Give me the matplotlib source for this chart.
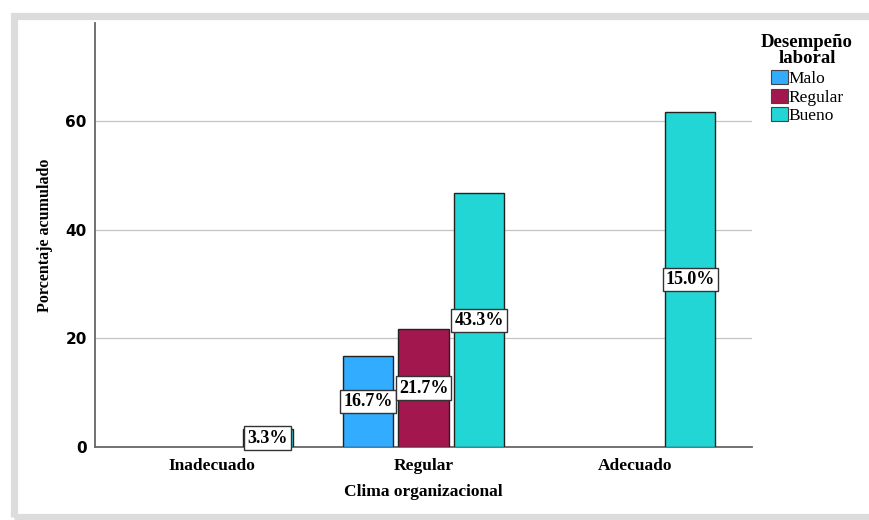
import numpy as np
import matplotlib.pyplot as plt
from matplotlib.patches import Rectangle, Patch

# Datos: porcentaje acumulado por clima organizacional y desempeño laboral
categorias = ['Inadecuado', 'Regular', 'Adecuado']
series = ['Malo', 'Regular', 'Bueno']
acumulado = {
    'Malo':    [0.0, 16.7, 0.0],
    'Regular': [0.0, 21.7, 0.0],
    'Bueno':   [3.3, 46.7, 61.7],
}
etiquetas = {
    'Malo':    [None, '16.7%', None],
    'Regular': [None, '21.7%', None],
    'Bueno':   ['3.3%', '43.3%', '15.0%'],
}
colores = {'Malo': '#31acfe', 'Regular': '#a3174f', 'Bueno': '#22d6d6'}

serif = ['Liberation Serif', 'DejaVu Serif']

fig = plt.figure(figsize=(8.69, 5.2), dpi=100)

# marco gris de fondo (arriba, izquierda y abajo)
fig.patches.append(Rectangle((13.5 / 869, 3.5 / 520), 1.0, 500.5 / 520, transform=fig.transFigure,
                             facecolor='none', edgecolor='#dcdcdc', linewidth=5.2, zorder=0))

ax = fig.add_axes([95 / 869, 73 / 520, 657 / 869, 424 / 520])

x = np.arange(len(categorias))
ancho = 0.237
desp = 0.263
for i, s in enumerate(series):
    pos = x + (i - 1) * desp
    vals = acumulado[s]
    for p, v, lab in zip(pos, vals, etiquetas[s]):
        if v <= 0:
            continue
        ax.bar(p, v, width=ancho, color=colores[s], edgecolor='#222222', linewidth=1, zorder=3)
        ax.text(p, v / 2, lab, ha='center', va='center', fontsize=13, fontweight='bold',
                family=serif, zorder=4,
                bbox=dict(boxstyle='square,pad=0.17', facecolor='white', edgecolor='#333333', linewidth=1))

ax.set_xlim(-0.555, 2.555)
ax.set_ylim(0, 78)
ax.set_yticks([0, 20, 40, 60])
ax.set_xticks(x)
ax.set_xticklabels(categorias, fontsize=12.5, fontweight='bold', family=serif)
for t in ax.get_yticklabels():
    t.set_fontsize(11)
    t.set_fontweight('bold')
ax.tick_params(axis='y', length=0, pad=6)
ax.tick_params(axis='x', length=0, pad=8)
ax.grid(axis='y', color='#c4c4c4', linewidth=0.9, zorder=0)
for lado in ['top', 'right']:
    ax.spines[lado].set_visible(False)
for lado in ['left', 'bottom']:
    ax.spines[lado].set_color('#666666')
    ax.spines[lado].set_linewidth(1.3)

ax.set_xlabel('Clima organizacional', fontsize=12.5, fontweight='bold', family=serif, va='center')
ax.xaxis.set_label_coords(0.5, -0.106)
ax.set_ylabel('Porcentaje acumulado', fontsize=11.5, fontweight='bold', family=serif, va='center')
ax.yaxis.set_label_coords(-0.076, 0.5)

handles = [Patch(facecolor=colores[s], edgecolor='#444444', linewidth=0.8) for s in series]
leg = fig.legend(handles, series, loc='upper left', bbox_to_anchor=(749 / 869, 1 - 22 / 520),
                 title='Desempeño\nlaboral', frameon=False, prop={'family': serif, 'size': 12.5},
                 handlelength=0.98, handleheight=0.86, handletextpad=0.05, labelspacing=0.09,
                 borderpad=0.2)
leg.get_title().set_fontweight('bold')
leg.get_title().set_family(serif)
leg.get_title().set_fontsize(13.5)
leg.get_title().set_multialignment('center')
leg.get_title().set_linespacing(0.93)
leg._legend_box.sep = 2

fig.savefig('out.png', dpi=100)
